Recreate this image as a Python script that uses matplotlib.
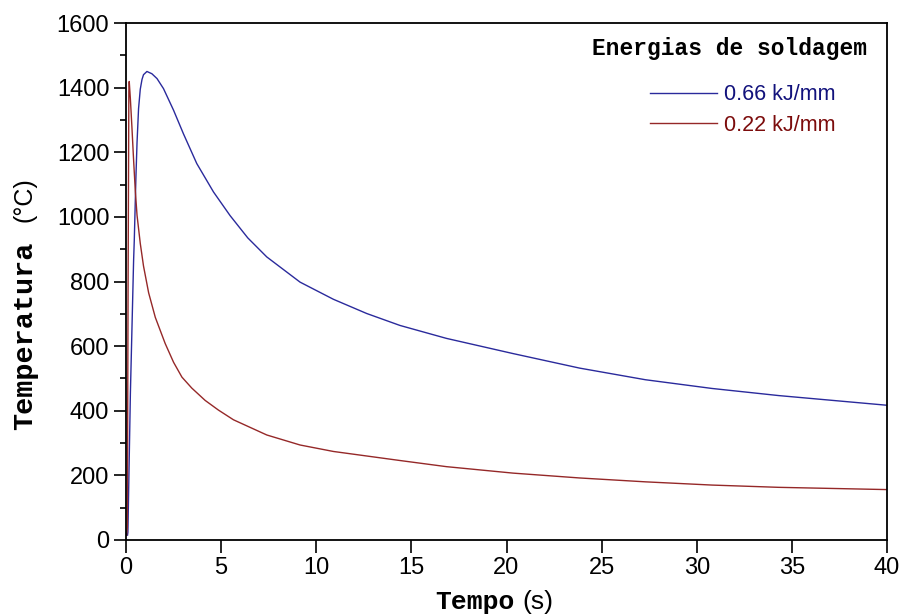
import matplotlib
matplotlib.use("Agg")
import matplotlib.pyplot as plt
from matplotlib.ticker import MultipleLocator

# Data
t_066 = [0.08, 0.1, 0.23, 0.4, 0.435, 0.52, 0.58, 0.66, 0.75, 0.84, 0.92, 1.1, 1.36, 1.63,
         1.97, 2.5, 3.02, 3.72, 4.6, 5.47, 6.4, 7.4, 9.15, 10.9, 12.65, 14.4,
         16.84, 20.34, 23.84, 27.3, 30.8, 34.3, 40.0]
T_066 = [15, 24, 452, 866, 927, 1120, 1230, 1335, 1395, 1425, 1440, 1450, 1443, 1428,
         1397, 1330, 1257, 1165, 1077, 1004, 935, 876, 798, 745, 701, 664,
         624, 577, 532, 496, 469, 447, 417]

t_022 = [0.03, 0.07, 0.11, 0.15, 0.17, 0.23, 0.31, 0.4, 0.49, 0.58, 0.75, 0.92, 1.19, 1.54,
         2.06, 2.5, 2.94, 3.46, 4.16, 4.86, 5.65, 7.4, 9.15, 10.9, 14.4, 16.84, 20.34,
         23.84, 27.3, 30.8, 34.3, 40.0]
T_022 = [15, 40, 800, 1390, 1419, 1365, 1279, 1175, 1080, 1005, 918, 848, 765, 689,
         608, 550, 504, 470, 432, 402, 372, 325, 294, 274, 246, 227, 207,
         192, 180, 170, 163, 156]

labels = ["0.66 kJ/mm", "0.22 kJ/mm"]
line_colors = ["#2a2a9c", "#952828"]
text_colors = ["#12127c", "#7c0c0c"]
title = "Energias de soldagem"
xlabel_word, xlabel_unit = "Tempo", "(s)"
ylabel_word, ylabel_unit = "Temperatura", "(°C)"

plt.rcParams['font.family'] = ['Liberation Sans', 'DejaVu Sans']
mono = ['Liberation Mono', 'DejaVu Sans Mono']

W, H = 904, 615
fig = plt.figure(figsize=(W / 100, H / 100), dpi=100)
ax = fig.add_axes([126 / W, 1 - 540 / H, 761 / W, 517 / H])

l1, = ax.plot(t_066, T_066, color=line_colors[0], lw=1.0, label=labels[0])
l2, = ax.plot(t_022, T_022, color=line_colors[1], lw=1.0, label=labels[1])

ax.set_xlim(0, 40)
ax.set_ylim(0, 1600)
ax.xaxis.set_major_locator(MultipleLocator(5))
ax.yaxis.set_major_locator(MultipleLocator(200))
ax.yaxis.set_minor_locator(MultipleLocator(100))
ax.tick_params(axis='both', which='major', direction='out', length=9, width=1.2,
               labelsize=17, pad=3, top=False, right=False)
ax.tick_params(axis='y', which='minor', direction='out', length=4.5, width=1.2)
for s in ax.spines.values():
    s.set_linewidth(1.3)

# Axis labels: word in bold monospace, unit in sans (as in the reference)
fig.text(435 / W, 1 - 609 / H, xlabel_word, ha='left', va='baseline',
         fontsize=19, fontweight='bold', family=mono)
fig.text(522 / W, 1 - 609 / H, xlabel_unit, ha='left', va='baseline', fontsize=19)
fig.text(25 / W, 1 - 430 / H, ylabel_word, rotation=90, ha='center', va='bottom',
         fontsize=20.5, fontweight='bold', family=mono)
fig.text(25 / W, 1 - 222 / H, ylabel_unit, rotation=90, ha='center', va='bottom',
         fontsize=18)

ax.text(0.9737, 0.9516, title, transform=ax.transAxes, ha='right', va='center',
        fontsize=16.5, fontweight='bold', family=mono)

leg = ax.legend(handles=[l1, l2], loc='center left', bbox_to_anchor=(0.6886, 0.8317),
                frameon=False, fontsize=15.5, handlelength=3.1, handletextpad=0.32,
                labelspacing=0.45, borderpad=0, borderaxespad=0)
for txt, c in zip(leg.get_texts(), text_colors):
    txt.set_color(c)

fig.savefig("out.png", dpi=100)
